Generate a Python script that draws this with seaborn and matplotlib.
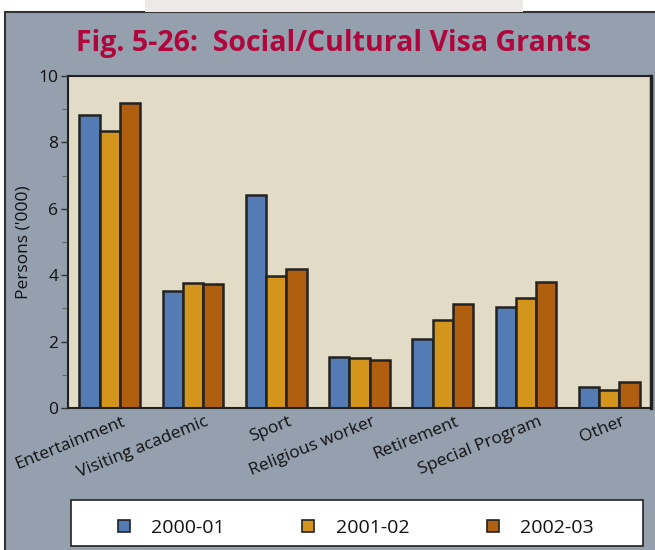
import matplotlib
matplotlib.use("Agg")
import matplotlib.pyplot as plt
import matplotlib.transforms as mtransforms
from matplotlib.patches import Rectangle
from matplotlib.lines import Line2D
import seaborn as sns
import pandas as pd

categories = ["Entertainment", "Visiting academic", "Sport", "Religious worker",
              "Retirement", "Special Program", "Other"]
years = ["2000-01", "2001-02", "2002-03"]
v2000 = [8.84, 3.53, 6.41, 1.54, 2.08, 3.03, 0.62]
v2001 = [8.34, 3.76, 3.99, 1.50, 2.65, 3.30, 0.54]
v2002 = [9.19, 3.72, 4.18, 1.46, 3.12, 3.80, 0.77]
colors = ["#537bb4", "#d3951c", "#b05e10"]

title = "Fig. 5-26:  Social/Cultural Visa Grants"
ylabel = "Persons ('000)"

rows = []
for yr, vals in zip(years, [v2000, v2001, v2002]):
    for c, v in zip(categories, vals):
        rows.append({"category": c, "year": yr, "value": v})
df = pd.DataFrame(rows)

sns.set_style("white")
plt.rcParams["font.family"] = ["Open Sans", "DejaVu Sans"]

fig = plt.figure(figsize=(6.55, 5.5), dpi=100)
fig.patch.set_facecolor("white")
# panel background
fig.patches.append(Rectangle((5 / 655, -0.01), 1.0, 1.01 - 12 / 550, transform=fig.transFigure,
                             facecolor="#95a0ae", edgecolor="#333333", linewidth=1.5,
                             zorder=-10))
fig.patches.append(Rectangle((145 / 655, 1 - 12 / 550), (523 - 145) / 655, 12 / 550,
                             transform=fig.transFigure, facecolor="#ede9e7",
                             edgecolor="none", zorder=-10))
# legend frame
fig.patches.append(Rectangle((71 / 655, 4 / 550), (643 - 71) / 655, 46 / 550,
                             transform=fig.transFigure, facecolor="white",
                             edgecolor="#222222", linewidth=1.2, zorder=-5))

ax = fig.add_axes([68 / 655, 1 - 408 / 550, (651 - 68) / 655, (408 - 76) / 550])
ax.set_facecolor("#e2dbc5")
sns.barplot(data=df, x="category", y="value", hue="year", palette=colors,
            width=0.73, edgecolor="#222222", linewidth=1.8, ax=ax, legend=False,
            saturation=1)
ax.set_ylim(0, 10)
ax.set_xlim(-0.5, len(categories) - 0.5)
ax.set_yticks([0, 2, 4, 6, 8, 10])
ax.set_yticks([1, 3, 5, 7, 9], minor=True)
ax.tick_params(axis="y", which="major", direction="out", length=5, width=1,
               color="#333333", left=True, labelsize=12.5, labelcolor="#111111", pad=2)
ax.tick_params(axis="y", which="minor", direction="out", length=4, width=0.8,
               color="#666666", left=True)
ax.tick_params(axis="x", length=0, labelsize=12.5, labelcolor="#111111", pad=4)
for s in ax.spines.values():
    s.set_color("#222222")
    s.set_linewidth(1.5)
ax.spines["right"].set_linewidth(2.5)
ax.set_xlabel("")
ax.set_ylabel(ylabel, fontsize=12.5, color="#111111", labelpad=5)

offset = mtransforms.ScaledTranslation(12 / 100, 0, fig.dpi_scale_trans)
for lab in ax.get_xticklabels():
    lab.set_rotation(22)
    lab.set_ha("right")
    lab.set_rotation_mode("anchor")
    lab.set_transform(lab.get_transform() + offset)

fig.text(334 / 655, 1 - 43 / 550, title, ha="center", va="center", fontsize=20.5,
         fontweight="bold", color="#b0063c")

handles = [Line2D([0], [0], marker="s", linestyle="none", markersize=9,
                  markerfacecolor=c, markeredgecolor="#222222", markeredgewidth=1.2)
           for c in colors]
leg = fig.legend(handles, years, loc="center", ncol=3, frameon=False,
                 bbox_to_anchor=(353 / 655, 22 / 550), fontsize=14,
                 handletextpad=0.8, columnspacing=3.7, handlelength=1.2)
for t in leg.get_texts():
    t.set_color("#111111")

fig.savefig("out.png", dpi=100, facecolor=fig.get_facecolor())
